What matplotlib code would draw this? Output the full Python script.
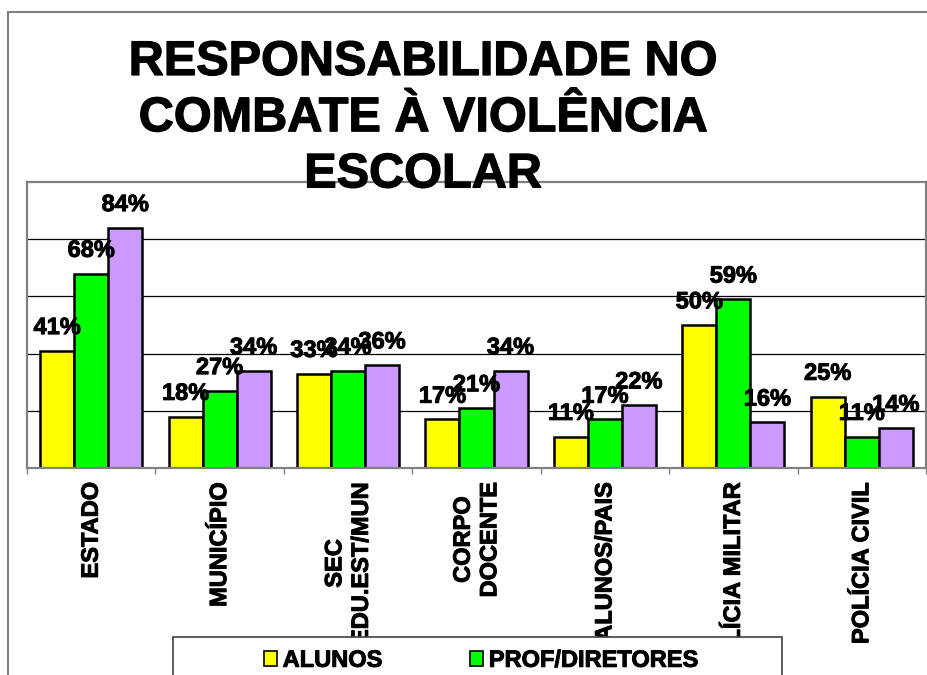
import numpy as np
import matplotlib
matplotlib.use("Agg")
import matplotlib.pyplot as plt
import matplotlib.patheffects as pe
from matplotlib.patches import Rectangle, Patch
from matplotlib.ticker import FixedLocator, NullLocator

plt.rcParams['font.family'] = ['Liberation Sans', 'DejaVu Sans']

# --- data -------------------------------------------------------------
categories = ["ESTADO", "MUNICÍPIO", "SEC\nEDU.EST/MUN", "CORPO\nDOCENTE",
              "ALUNOS/PAIS", "POLÍCIA MILITAR", "POLÍCIA CIVIL"]
alunos = [41, 18, 33, 17, 11, 50, 25]
prof_diretores = [68, 27, 34, 21, 17, 59, 11]
terceira_serie = [84, 34, 36, 34, 22, 16, 14]
series_labels = ["ALUNOS", "PROF/DIRETORES"]
title = "RESPONSABILIDADE NO\nCOMBATE À VIOLÊNCIA\nESCOLAR"

colors = ["#FFFF00", "#00FF00", "#CC99FF"]

W, H = 928, 675
fig = plt.figure(figsize=(W / 100, H / 100), dpi=100)
fig.patch.set_facecolor("white")

heavy = [pe.withStroke(linewidth=0.7, foreground="black")]
heavy_title = [pe.withStroke(linewidth=0.9, foreground="black")]


def fx(px):
    return px / W


def fy(py):
    return 1 - py / H


# outer chart frame (top and left edges visible)
fig.add_artist(Rectangle((fx(8), fy(800)), 2.0, (800 - 12) / H,
                         transform=fig.transFigure, facecolor="none",
                         edgecolor="#808080", lw=1.5, zorder=-1))

ax = fig.add_axes([fx(27), fy(468), (926 - 27) / W, (468 - 182) / H])

x = np.arange(len(categories)) + 0.5
width = 0.265
all_series = [alunos, prof_diretores, terceira_serie]
for i, (vals, col) in enumerate(zip(all_series, colors)):
    xs = x + (i - 1) * width
    ax.bar(xs, vals, width=width, color=col, edgecolor="black",
           linewidth=1.8, zorder=2)
    for xi, v in zip(xs, vals):
        ax.annotate(f"{v}%", (xi, v), xytext=(0, 12), textcoords="offset points",
                    ha="center", va="baseline", fontsize=17, fontweight="bold",
                    zorder=5, path_effects=heavy)

ax.set_xlim(0, len(categories))
ax.set_ylim(0, 100)
ax.set_axisbelow(True)
for yv in (20, 40, 60, 80):
    ax.axhline(yv, color="black", lw=0.9, zorder=0)

ax.yaxis.set_major_locator(NullLocator())
ax.xaxis.set_major_locator(FixedLocator(x))
ax.xaxis.set_minor_locator(FixedLocator(np.arange(len(categories) + 1)))
ax.set_xticklabels(categories, rotation=90, ha="center", va="top",
                   multialignment="center", fontsize=17, fontweight="bold",
                   path_effects=heavy)
ax.tick_params(axis="x", which="major", length=0, pad=10)
ax.tick_params(axis="x", which="minor", length=4.5, width=1, color="#808080")

for s in ax.spines.values():
    s.set_color("#808080")
    s.set_linewidth(1.6)

fig.text(fx(423), fy(40), title, ha="center", va="top", fontsize=35,
         fontweight="bold", linespacing=1.32, path_effects=heavy_title)

# legend box, sitting over the lower part of the axis labels
fig.add_artist(Rectangle((fx(173), fy(720)), (782 - 173) / W, (720 - 637) / H,
                         transform=fig.transFigure, facecolor="white",
                         edgecolor="#404040", lw=1.2, zorder=4))
handles = [Patch(facecolor=c, edgecolor="black", lw=1.2) for c in colors[:2]]
leg = fig.legend(handles, series_labels, loc="upper left",
                 bbox_to_anchor=(fx(252), fy(637)), ncol=2, frameon=False,
                 borderpad=0, handlelength=0.55, handleheight=0.55,
                 handletextpad=0.25, columnspacing=3.7,
                 prop={"size": 17, "weight": "bold"})
for t in leg.get_texts():
    t.set_path_effects(heavy)

fig.savefig("out.png", dpi=100)
